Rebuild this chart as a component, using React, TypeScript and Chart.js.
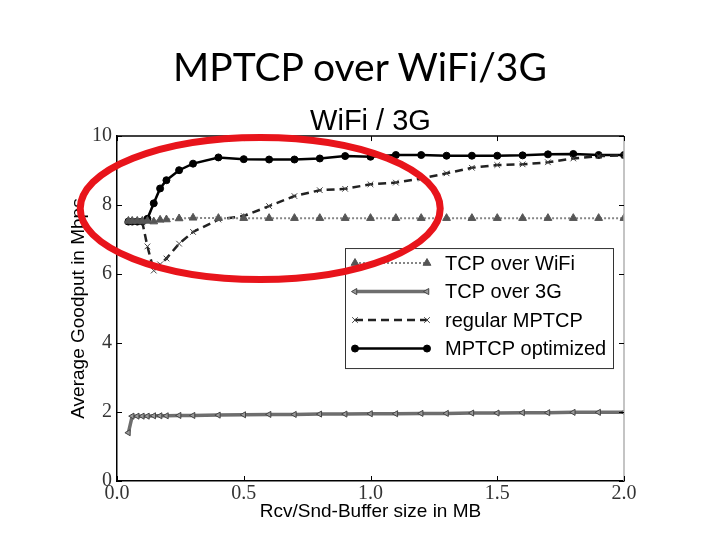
import React, { useEffect, useRef } from "react";
import { Chart, registerables } from "chart.js";
import { drawPoint } from "chart.js/helpers";

Chart.register(...registerables);

// ---- data ----
const bufferSizes = [0.045, 0.06, 0.08, 0.1, 0.12, 0.145, 0.17, 0.195, 0.245, 0.3, 0.4, 0.5, 0.6, 0.7, 0.8, 0.9, 1.0, 1.1, 1.2, 1.3, 1.4, 1.5, 1.6, 1.7, 1.8, 1.9, 2.0];
const tcpWifi = [7.54, 7.54, 7.54, 7.54, 7.54, 7.52, 7.57, 7.58, 7.61, 7.63, 7.62, 7.62, 7.62, 7.62, 7.62, 7.62, 7.62, 7.62, 7.62, 7.62, 7.62, 7.62, 7.62, 7.62, 7.62, 7.62, 7.62];
const tcp3g = [1.4, 1.88, 1.88, 1.88, 1.88, 1.89, 1.89, 1.89, 1.9, 1.9, 1.91, 1.92, 1.93, 1.93, 1.94, 1.94, 1.95, 1.95, 1.96, 1.96, 1.97, 1.97, 1.98, 1.98, 1.99, 1.99, 1.99];
const regularMptcp = [7.52, 7.52, 7.52, 7.5, 6.8, 6.1, 6.28, 6.45, 6.88, 7.22, 7.58, 7.68, 7.97, 8.26, 8.43, 8.47, 8.6, 8.65, 8.77, 8.92, 9.08, 9.16, 9.18, 9.24, 9.35, 9.42, 9.44];
const mptcpOptimized = [7.52, 7.52, 7.52, 7.52, 7.6, 8.05, 8.48, 8.72, 9.01, 9.2, 9.38, 9.33, 9.32, 9.32, 9.35, 9.42, 9.4, 9.45, 9.45, 9.43, 9.43, 9.43, 9.44, 9.47, 9.48, 9.45, 9.45];
const seriesLabels = ["TCP over WiFi", "TCP over 3G", "regular MPTCP", "MPTCP optimized"];
const xTicks = [0, 0.5, 1.0, 1.5, 2.0];
const yTicks = [0, 2, 4, 6, 8, 10];
// highlighted region (data units): center & radii
const highlight = { cx: 0.565, cy: 7.9, rx: 0.71, ry: 2.06 };

const pageTitle = "MPTCP over WiFi/3G";
const chartTitle = "WiFi / 3G";
const xTitle = "Rcv/Snd-Buffer size in MB";
const yTitle = "Average Goodput in Mbps";

const toXY = (ys: number[]) => ys.map((y, i) => ({ x: bufferSizes[i], y }));

const decorPlugin = {
  id: "decor",
  afterDatasetsDraw(chart: any) {
    const { ctx, chartArea: ca, scales } = chart;
    const xs = scales.x;
    const ysc = scales.y;
    ctx.save();
    ctx.lineWidth = 1.5;
    ctx.strokeStyle = "#000";
    ctx.beginPath();
    ctx.moveTo(ca.left, ca.top);
    ctx.lineTo(ca.right, ca.top);
    ctx.stroke();
    ctx.strokeStyle = "#b0b0b0";
    ctx.beginPath();
    ctx.moveTo(ca.right, ca.top);
    ctx.lineTo(ca.right, ca.bottom);
    ctx.stroke();
    ctx.strokeStyle = "#000";
    ctx.lineWidth = 1;
    const tl = 5;
    xTicks.forEach((v) => {
      const px = Math.round(xs.getPixelForValue(v)) + 0.5;
      ctx.beginPath();
      ctx.moveTo(px, ca.bottom);
      ctx.lineTo(px, ca.bottom - tl);
      ctx.moveTo(px, ca.top);
      ctx.lineTo(px, ca.top + tl);
      ctx.stroke();
    });
    yTicks.forEach((v) => {
      const py = Math.round(ysc.getPixelForValue(v)) + 0.5;
      ctx.beginPath();
      ctx.moveTo(ca.left, py);
      ctx.lineTo(ca.left + tl, py);
      ctx.moveTo(ca.right, py);
      ctx.lineTo(ca.right - tl, py);
      ctx.stroke();
    });
    ctx.restore();
  },
  afterDraw(chart: any) {
    const { ctx, chartArea: ca, scales } = chart;
    const ds = chart.data.datasets;
    const left = ca.left + 228;
    const top = ca.top + 112;
    const w = 268;
    const h = 120;
    ctx.save();
    ctx.fillStyle = "#fff";
    ctx.fillRect(left, top, w, h);
    ctx.strokeStyle = "#333";
    ctx.lineWidth = 1;
    ctx.strokeRect(left + 0.5, top + 0.5, w, h);
    ds.forEach((d: any, i: number) => {
      const y = top + 15 + i * 28.5;
      const x0 = left + 10;
      const x1 = left + 82;
      ctx.save();
      ctx.strokeStyle = d.borderColor;
      ctx.lineWidth = d.borderWidth;
      ctx.setLineDash(d.borderDash || []);
      ctx.beginPath();
      ctx.moveTo(x0, y);
      ctx.lineTo(x1, y);
      ctx.stroke();
      ctx.setLineDash([]);
      [x0, x1].forEach((px) => {
        ctx.fillStyle = d.pointBackgroundColor;
        ctx.strokeStyle = d.pointBorderColor;
        ctx.lineWidth = d.pointBorderWidth;
        drawPoint(ctx, { pointStyle: d.pointStyle, rotation: d.pointRotation || 0, radius: d.pointRadius, borderWidth: d.pointBorderWidth }, px, y);
      });
      ctx.restore();
      ctx.fillStyle = "#000";
      ctx.font = "20px 'Liberation Sans', Arial, sans-serif";
      ctx.textBaseline = "middle";
      ctx.textAlign = "left";
      ctx.fillText(d.label, left + 100, y + 1);
    });
    const cx = scales.x.getPixelForValue(highlight.cx);
    const cy = scales.y.getPixelForValue(highlight.cy);
    const rx = scales.x.getPixelForValue(highlight.cx + highlight.rx) - cx;
    const ry = cy - scales.y.getPixelForValue(highlight.cy + highlight.ry);
    ctx.strokeStyle = "#e8141b";
    ctx.lineWidth = 7;
    ctx.beginPath();
    ctx.ellipse(cx, cy, rx, ry, 0, 0, Math.PI * 2);
    ctx.stroke();
    ctx.restore();
  },
};

export default function App() {
  const ref = useRef<HTMLCanvasElement>(null);
  useEffect(() => {
    if (!ref.current) return;
    const chart = new Chart(ref.current, {
      type: "line",
      data: {
        datasets: [
          {
            label: seriesLabels[0],
            data: toXY(tcpWifi),
            borderColor: "#858585",
            borderWidth: 2,
            borderDash: [2, 2],
            pointStyle: "triangle",
            pointRadius: 4.5,
            pointBackgroundColor: "#555",
            pointBorderColor: "#555",
            pointBorderWidth: 1,
          },
          {
            label: seriesLabels[1],
            data: toXY(tcp3g),
            borderColor: "#6e6e6e",
            borderWidth: 3.5,
            pointStyle: "triangle",
            pointRotation: -90,
            pointRadius: 3.5,
            pointBackgroundColor: "#9a9a9a",
            pointBorderColor: "#444",
            pointBorderWidth: 1,
          },
          {
            label: seriesLabels[2],
            data: toXY(regularMptcp),
            borderColor: "#222",
            borderWidth: 2.5,
            borderDash: [8, 5],
            pointStyle: "crossRot",
            pointRadius: 4,
            pointBackgroundColor: "#444",
            pointBorderColor: "#444",
            pointBorderWidth: 1,
          },
          {
            label: seriesLabels[3],
            data: toXY(mptcpOptimized),
            borderColor: "#000",
            borderWidth: 2.5,
            pointStyle: "circle",
            pointRadius: 3.5,
            pointBackgroundColor: "#000",
            pointBorderColor: "#000",
            pointBorderWidth: 1,
          },
        ] as any,
      },
      options: {
        animation: false,
        responsive: false,
        maintainAspectRatio: false,
        layout: { padding: { left: 60, right: 96, top: 0, bottom: 17 } },
        plugins: {
          legend: { display: false },
          tooltip: { enabled: false },
          title: {
            display: true,
            text: chartTitle,
            color: "#000",
            fullSize: false,
            font: { family: "'Liberation Sans', Arial, sans-serif", size: 29, weight: "normal", lineHeight: 0.95 },
            padding: { top: 108.5, bottom: 0 },
          },
        },
        scales: {
          x: {
            type: "linear",
            min: 0,
            max: 2,
            afterFit: (s: any) => { s.height = 42; },
            afterBuildTicks: (s: any) => { s.ticks = xTicks.map((v) => ({ value: v })); },
            grid: { display: false, drawTicks: false },
            border: { display: true, color: "#000", width: 1.5 },
            ticks: {
              padding: 1,
              maxRotation: 0,
              autoSkip: false,
              color: "#333",
              font: { family: "'Liberation Serif', 'DejaVu Serif', serif", size: 20 },
              callback: (v: any) => Number(v).toFixed(1),
            },
            title: {
              display: true,
              text: xTitle,
              color: "#000",
              font: { family: "'Liberation Sans', Arial, sans-serif", size: 19, lineHeight: 1.2 },
              padding: { top: 0, bottom: 0 },
            },
          },
          y: {
            type: "linear",
            min: 0,
            max: 10,
            afterFit: (s: any) => { s.width = 57; },
            afterBuildTicks: (s: any) => { s.ticks = yTicks.map((v) => ({ value: v })); },
            grid: { display: false, drawTicks: false },
            border: { display: true, color: "#000", width: 1.5 },
            ticks: {
              padding: 5,
              color: "#333",
              font: { family: "'Liberation Serif', 'DejaVu Serif', serif", size: 20 },
              callback: (v: any) => String(v),
            },
            title: {
              display: true,
              text: yTitle,
              color: "#000",
              font: { family: "'Liberation Sans', Arial, sans-serif", size: 19, lineHeight: 1.2 },
              padding: { top: 7, bottom: 0 },
            },
          },
        },
      } as any,
      plugins: [decorPlugin],
    });
    return () => chart.destroy();
  }, []);
  return (
    <div style={{ position: "absolute", left: 0, top: 0, width: 720, height: 540, background: "#fff" }}>
      <canvas ref={ref} width={720} height={540} style={{ width: 720, height: 540, display: "block" }} />
      <div
        style={{
          position: "absolute",
          left: 0,
          top: 42,
          width: 720,
          height: 48,
          lineHeight: "48px",
          fontSize: 39,
          fontFamily: "Lato, 'Open Sans', sans-serif",
          textAlign: "center",
          color: "#000",
        }}
      >
        {pageTitle}
      </div>
    </div>
  );
}
